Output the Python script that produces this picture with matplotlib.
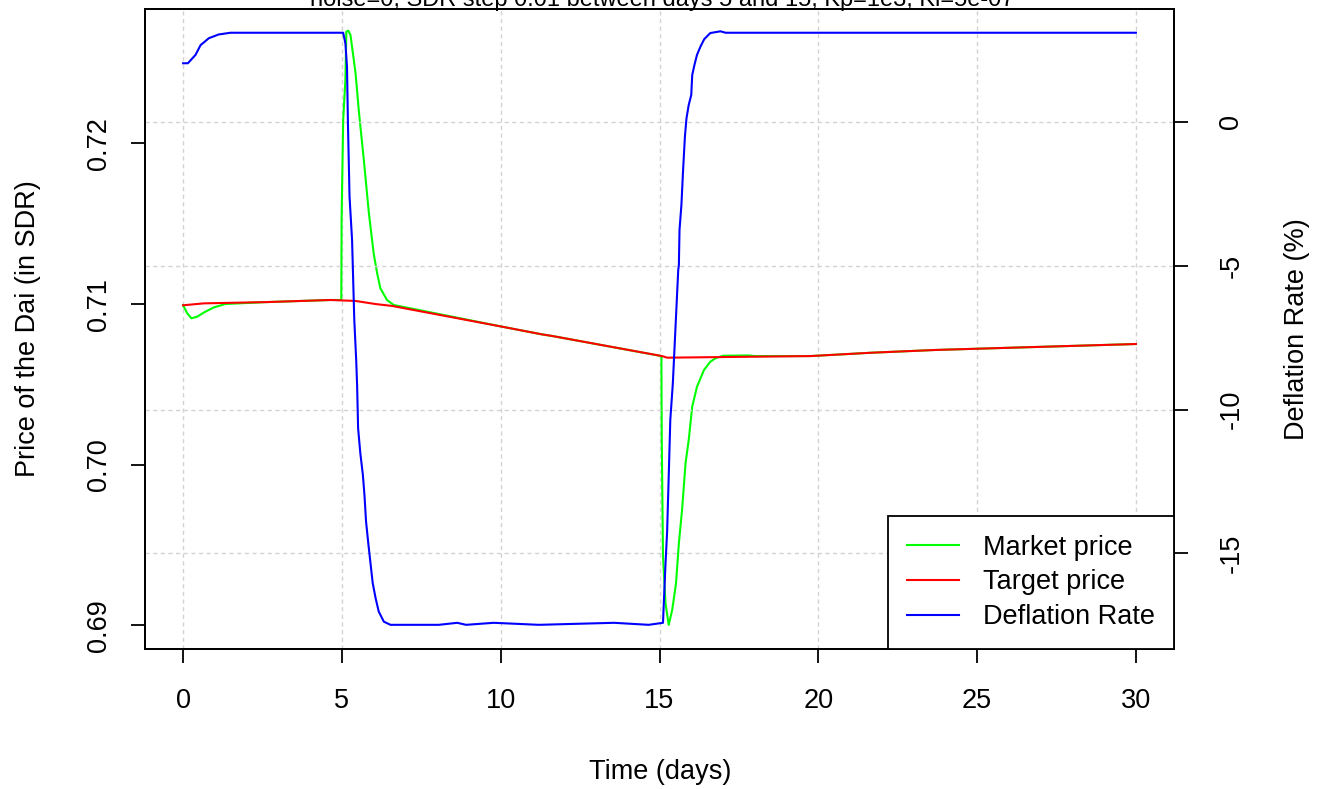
import matplotlib
matplotlib.use("Agg")
import matplotlib.pyplot as plt
from matplotlib.lines import Line2D

plt.rcParams["font.family"] = ["Liberation Sans", "DejaVu Sans"]

# -----------------------------
# Data
# -----------------------------
market_t = [0, 0.13, 0.26, 0.44, 0.70, 0.97, 1.33, 2.64, 4.64, 4.98, 4.99, 5.04,
            5.11, 5.14, 5.20, 5.27, 5.43, 5.53, 5.69, 5.85, 6.00, 6.11, 6.21, 6.42,
            6.63, 10.04, 11.30, 11.62, 15.06, 15.07, 15.11, 15.19, 15.29, 15.40,
            15.52, 15.61, 15.71, 15.82, 15.92, 16.03, 16.18, 16.40, 16.60, 16.76,
            17.00, 17.80, 18.00, 19.75, 21.69, 23.69, 30]
market_p = [0.70992, 0.70942, 0.70911, 0.70921, 0.70952, 0.70979, 0.71000, 0.71012,
            0.71025, 0.71025, 0.71523, 0.72145, 0.72394, 0.72695, 0.72701, 0.72674,
            0.72436, 0.72207, 0.71896, 0.71564, 0.71315, 0.71191, 0.71098, 0.71025,
            0.70994, 0.70859, 0.70811, 0.70801, 0.70676, 0.70174, 0.69428, 0.69137,
            0.69003, 0.69096, 0.69262, 0.69511, 0.69718, 0.70009, 0.70154, 0.70361,
            0.70485, 0.70589, 0.70641, 0.70662, 0.70678, 0.70680, 0.70676, 0.70676,
            0.70697, 0.70714, 0.70751]

target_t = [0, 0.65, 2.64, 4.64, 5.43, 6.05, 6.58, 10.04, 11.30, 11.62, 15.08,
            15.24, 19.75, 21.69, 23.69, 30]
target_p = [0.70992, 0.71004, 0.71012, 0.71025, 0.71019, 0.71000, 0.70988, 0.70859,
            0.70811, 0.70801, 0.70676, 0.70666, 0.70676, 0.70697, 0.70714, 0.70751]

defl_t = [0, 0.15, 0.39, 0.55, 0.81, 1.12, 1.49, 5.04, 5.11, 5.16, 5.19, 5.24,
          5.32, 5.39, 5.45, 5.48, 5.51, 5.58, 5.66, 5.71, 5.76, 5.83, 5.90, 5.97,
          6.06, 6.16, 6.32, 6.53, 8.05, 8.63, 8.91, 9.78, 11.20, 13.57, 14.66,
          15.11, 15.14, 15.19, 15.24, 15.29, 15.34, 15.42, 15.47, 15.52, 15.59,
          15.61, 15.63, 15.69, 15.74, 15.80, 15.85, 15.92, 16.00, 16.03, 16.10,
          16.18, 16.29, 16.41, 16.60, 16.92, 17.08, 30]
defl_r = [2.03, 2.03, 2.32, 2.66, 2.90, 3.03, 3.09, 3.09, 2.72, 1.91, -0.06, -2.6,
          -4.11, -6.89, -8.28, -9.2, -10.65, -11.52, -12.27, -12.97, -13.89, -14.64,
          -15.34, -16.03, -16.55, -17.02, -17.37, -17.48, -17.48, -17.41, -17.48,
          -17.41, -17.48, -17.41, -17.48, -17.41, -16.61, -15.34, -14.24, -12.33,
          -10.36, -9.09, -7.93, -6.77, -5.15, -4.98, -3.76, -2.89, -1.74, -0.52,
          0.12, 0.58, 0.93, 1.62, 1.97, 2.32, 2.61, 2.87, 3.08, 3.14, 3.09, 3.09]

x_ticks = [0, 5, 10, 15, 20, 25, 30]
price_ticks = [0.69, 0.70, 0.71, 0.72]
rate_ticks = [-15, -10, -5, 0]

title = "noise=0, SDR step 0.01 between days 5 and 15, Kp=1e3, Ki=5e-07"

# -----------------------------
# Plot
# -----------------------------
W, H = 1321, 789
fig = plt.figure(figsize=(W / 100, H / 100), dpi=100)
ax1 = fig.add_axes([145 / W, 140 / H, 1029 / W, 640 / H])
ax2 = ax1.twinx()

grid_kw = dict(color="#D3D3D3", linestyle=(0, (3, 2.5)), linewidth=1.0)
ax1.xaxis.grid(True, **grid_kw)
ax2.yaxis.grid(True, **grid_kw)
ax1.set_axisbelow(True)
ax2.set_axisbelow(True)

lw = 1.5
ax1.plot(market_t, market_p, color="#00FF00", lw=lw)
ax1.plot(target_t, target_p, color="#FF0000", lw=lw)
ax2.plot(defl_t, defl_r, color="#0000FF", lw=lw)

ax1.set_xlim(-1.2, 31.2)
ax1.set_ylim(0.688532, 0.728357)
ax2.set_ylim(-18.32, 3.915)

ax1.set_xticks(x_ticks)
ax1.set_xticklabels([str(v) for v in x_ticks])
ax1.set_yticks(price_ticks)
ax1.set_yticklabels([f"{v:.2f}" for v in price_ticks], rotation=90, va="center")
ax2.set_yticks(rate_ticks)
ax2.set_yticklabels([str(v) for v in rate_ticks], rotation=90, va="center")

fs = 19.5
ax1.tick_params(axis="x", length=10, width=1.3, labelsize=fs, pad=18)
ax1.tick_params(axis="y", length=10, width=1.3, labelsize=fs, pad=14)
ax2.tick_params(axis="y", length=10, width=1.3, labelsize=fs, pad=22)

for ax in (ax1, ax2):
    for sp in ax.spines.values():
        sp.set_color("black")
        sp.set_linewidth(1.3)

fig.text(28 / W, 1 - 329 / H, "Price of the Dai (in SDR)", rotation=90,
         ha="center", va="center", fontsize=fs)
fig.text(1297 / W, 1 - 329 / H, "Deflation Rate (%)", rotation=90,
         ha="center", va="center", fontsize=fs)
fig.text(660 / W, 1 - 772 / H, "Time (days)", ha="center", va="center", fontsize=fs)
# the title sits mostly above the top edge, as in the reference
fig.text(662 / W, 1 - 6 / H, title, ha="center", va="baseline", fontsize=17)

handles = [Line2D([], [], color="#00FF00", lw=lw),
           Line2D([], [], color="#FF0000", lw=lw),
           Line2D([], [], color="#0000FF", lw=lw)]
leg = ax2.legend(handles, ["Market price", "Target price", "Deflation Rate"],
                 loc="lower right", borderaxespad=0, fancybox=False, framealpha=1,
                 edgecolor="black", fontsize=fs, handlelength=1.9, handletextpad=0.9,
                 borderpad=0.7, labelspacing=0.32)
leg.get_frame().set_linewidth(1.3)

fig.savefig("out.png", dpi=100)
